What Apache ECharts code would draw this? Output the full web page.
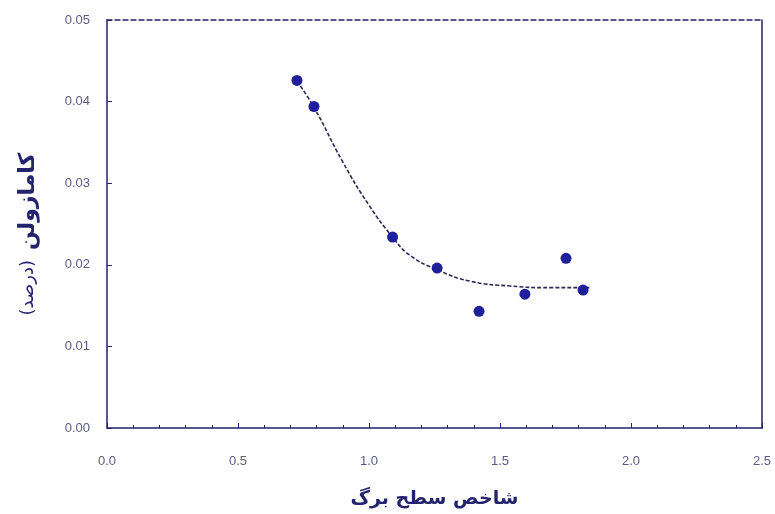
<!DOCTYPE html>
<html>
<head>
<meta charset="utf-8">
<script src="https://cdn.jsdelivr.net/npm/echarts@6/dist/echarts.min.js"></script>
<style>html,body{margin:0;padding:0;background:#fff;}#c{width:775px;height:514px;}</style>
</head>
<body>
<div id="c"></div>
<script>
// Observed points: leaf area index vs chamazulene (%)
const laiPoints = [0.725, 0.79, 1.09, 1.26, 1.42, 1.595, 1.752, 1.817];
const chamPoints = [0.0426, 0.0394, 0.0234, 0.0196, 0.0143, 0.0164, 0.0208, 0.0169];
// Fitted curve
const curveX = [0.725, 0.79, 0.90, 1.00, 1.09, 1.155, 1.26, 1.385, 1.54, 1.69, 1.845];
const curveY = [0.0425, 0.0393, 0.0326, 0.0273, 0.0234, 0.0212, 0.0194, 0.0180, 0.0174, 0.0172, 0.0172];
const xTickLabels = ['0.0', '0.5', '1.0', '1.5', '2.0', '2.5'];
const yTickLabels = ['0.00', '0.01', '0.02', '0.03', '0.04', '0.05'];

const navy = '#23236e';
const labelColor = '#5a5a85';
const chart = echarts.init(document.getElementById('c'));
chart.setOption({
  animation: false,
  backgroundColor: '#fff',
  grid: {left: 107, right: 13, top: 20, bottom: 86},
  xAxis: [{
    type: 'value', min: 0, max: 2.5, interval: 0.5,
    name: 'شاخص سطح برگ', nameLocation: 'middle', nameGap: 62,
    nameTextStyle: {fontFamily: 'DejaVu Sans', fontWeight: 'bold', fontSize: 19, color: navy},
    axisLine: {show: true, lineStyle: {color: navy, width: 1.5}},
    axisTick: {show: true, inside: true, length: 5, lineStyle: {color: navy}},
    minorTick: {show: true, splitNumber: 5, length: 3, lineStyle: {color: navy}},
    splitLine: {show: false},
    axisLabel: {margin: 27, fontFamily: 'Liberation Sans', fontSize: 13, color: labelColor,
      formatter: (v) => xTickLabels[Math.round(v / 0.5)]}
  }, {
    type: 'value', min: 0, max: 2.5, interval: 0.5, position: 'top',
    axisLine: {show: true, onZero: false, lineStyle: {color: navy, width: 1.5, type: [5, 3]}},
    axisTick: {show: false}, axisLabel: {show: false}, splitLine: {show: false}
  }],
  yAxis: [{
    type: 'value', min: 0, max: 0.05, interval: 0.01,
    name: '{b|(درصد)}   {a|کامازولن}', nameLocation: 'middle', nameGap: 68, nameRotate: 90,
    nameTextStyle: {padding: [0, 20, 0, 0], rich: {
      a: {fontFamily: 'DejaVu Sans', fontWeight: 'bold', fontSize: 22, color: navy},
      b: {fontFamily: 'DejaVu Sans', fontSize: 18, color: navy}
    }},
    axisLine: {show: true, lineStyle: {color: navy, width: 1.5}},
    axisTick: {show: true, inside: true, length: 5, lineStyle: {color: navy}},
    splitLine: {show: false},
    axisLabel: {margin: 17, fontFamily: 'Liberation Sans', fontSize: 13, color: labelColor,
      formatter: (v) => yTickLabels[Math.round(v / 0.01)]}
  }, {
    type: 'value', min: 0, max: 0.05, interval: 0.01, position: 'right',
    axisLine: {show: true, onZero: false, lineStyle: {color: navy, width: 1.5}},
    axisTick: {show: false}, axisLabel: {show: false}, splitLine: {show: false}
  }],
  series: [{
    type: 'line', smooth: true, symbol: 'none',
    data: curveX.map((x, i) => [x, curveY[i]]),
    lineStyle: {color: '#2a2a55', width: 1.6, type: [4, 2]},
    z: 2
  }, {
    type: 'scatter', symbol: 'circle', symbolSize: 11,
    data: laiPoints.map((x, i) => [x, chamPoints[i]]),
    itemStyle: {color: '#1f1f9a', opacity: 1},
    z: 3
  }, {
    type: 'line', xAxisIndex: 1, yAxisIndex: 1, data: [], silent: true
  }]
});
</script>
</body>
</html>
